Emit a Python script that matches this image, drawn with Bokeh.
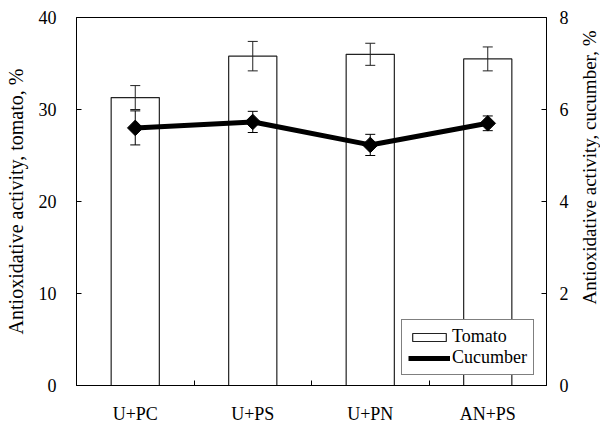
from bokeh.plotting import figure
from bokeh.layouts import row
from bokeh.models import (Range1d, LinearAxis, FixedTicker, ColumnDataSource,
                          Whisker, TeeHead, Legend, LegendItem, Label)
from bokeh.embed import file_html
from bokeh.resources import INLINE
import math

categories = ["U+PC", "U+PS", "U+PN", "AN+PS"]
tomato = [31.3, 35.8, 36.0, 35.5]
tomato_err = [1.3, 1.6, 1.2, 1.3]
cucumber = [5.60, 5.73, 5.23, 5.70]
cucumber_err = [0.37, 0.23, 0.23, 0.16]
left_ticks = [0, 10, 20, 30, 40]
right_ticks = [0, 2, 4, 6, 8]
left_title = "Antioxidative activity, tomato, %"
right_title = "Antioxidative activity, cucumber, %"

FONT = "Liberation Serif"
xs = [i + 0.5 for i in range(len(categories))]

src = ColumnDataSource(dict(
    x=xs, tomato=tomato,
    t_up=[v + e for v, e in zip(tomato, tomato_err)],
    t_lo=[v - e for v, e in zip(tomato, tomato_err)],
    cuc=cucumber,
    c_up=[v + e for v, e in zip(cucumber, cucumber_err)],
    c_lo=[v - e for v, e in zip(cucumber, cucumber_err)],
))

p = figure(width=580, height=426, output_backend="svg", toolbar_location=None,
           x_range=Range1d(0, len(categories)), y_range=Range1d(0, 40),
           min_border_left=76, min_border_right=34, min_border_top=17,
           min_border_bottom=41)
p.extra_y_ranges = {"cuc": Range1d(0, 8)}
p.xgrid.visible = False
p.ygrid.visible = False
p.outline_line_color = "black"
p.outline_line_width = 1
p.background_fill_color = "white"
p.border_fill_color = "white"

bars = p.vbar(x="x", top="tomato", bottom=0, width=0.41, source=src,
              fill_color="white", line_color="#222222", line_width=1.2)

tw = Whisker(base="x", upper="t_up", lower="t_lo", source=src, dimension="height",
             line_color="#222222", line_width=1, level="overlay",
             upper_head=TeeHead(size=10, line_color="#222222", line_width=1),
             lower_head=TeeHead(size=10, line_color="#222222", line_width=1))
p.add_layout(tw)

ln = p.line(x="x", y="cuc", source=src, y_range_name="cuc", line_color="black",
            line_width=5)
mk = p.scatter(x="x", y="cuc", source=src, y_range_name="cuc", marker="square",
               angle=math.pi / 4, size=11, fill_color="black", line_color="black")

cw = Whisker(base="x", upper="c_up", lower="c_lo", source=src, dimension="height",
             y_range_name="cuc", line_color="black", line_width=1, level="overlay",
             upper_head=TeeHead(size=10, line_color="black", line_width=1),
             lower_head=TeeHead(size=10, line_color="black", line_width=1))
p.add_layout(cw)

# x axis
xa = p.xaxis[0]
xa.ticker = FixedTicker(ticks=xs, minor_ticks=[1, 2, 3])
xa.major_label_overrides = {x: c for x, c in zip(xs, categories)}
xa.major_tick_line_color = None
xa.minor_tick_in = 5
xa.minor_tick_out = 0
xa.minor_tick_line_color = "black"
xa.axis_line_color = "black"
xa.major_label_standoff = 12
xa.major_label_text_font = FONT
xa.major_label_text_font_size = "18px"
xa.major_label_text_color = "black"

# left axis
ya = p.yaxis[0]
ya.ticker = FixedTicker(ticks=left_ticks)
ya.major_tick_in = 5
ya.major_tick_out = 0
ya.minor_tick_line_color = None
ya.major_label_standoff = 20
ya.major_label_text_font = FONT
ya.major_label_text_font_size = "18px"
ya.major_label_text_color = "black"
ya.axis_label = left_title
ya.axis_label_text_font = FONT
ya.axis_label_text_font_size = "20px"
ya.axis_label_text_font_style = "normal"
ya.axis_label_text_color = "black"
ya.axis_label_standoff = 9

ra = LinearAxis(y_range_name="cuc", ticker=FixedTicker(ticks=right_ticks))
ra.major_tick_in = 5
ra.major_tick_out = 0
ra.minor_tick_line_color = None
ra.major_label_standoff = 13
ra.major_label_text_font = FONT
ra.major_label_text_font_size = "18px"
ra.major_label_text_color = "black"
p.add_layout(ra, "right")

legend = Legend(items=[LegendItem(label="Tomato", renderers=[bars]),
                       LegendItem(label="Cucumber", renderers=[ln, mk])],
                location=(325, 10), orientation="vertical",
                label_text_font=FONT, label_text_font_size="18px",
                label_text_color="black", glyph_width=42, glyph_height=10,
                label_height=20, label_standoff=2, padding=6, spacing=0,
                margin=0, border_line_color="black", border_line_width=1,
                background_fill_color="white", background_fill_alpha=1)
p.add_layout(legend, "center")

# narrow strip carrying the right-hand axis title (reads bottom-to-top)
p2 = figure(width=20, height=426, output_backend="svg", toolbar_location=None,
            x_range=Range1d(0, 1), y_range=Range1d(0, 1), min_border=0)
p2.axis.visible = False
p2.grid.visible = False
p2.outline_line_color = None
p2.background_fill_color = "white"
p2.border_fill_color = "white"
rlab = Label(x=9, y=218, x_units="screen", y_units="screen", text=right_title,
             angle=math.pi / 2, text_align="center", text_baseline="middle",
             text_font=FONT, text_font_size="19px", text_color="black")
p2.add_layout(rlab)

layout = row(p, p2, spacing=0)
open("out.html", "w").write(file_html(layout, INLINE))
